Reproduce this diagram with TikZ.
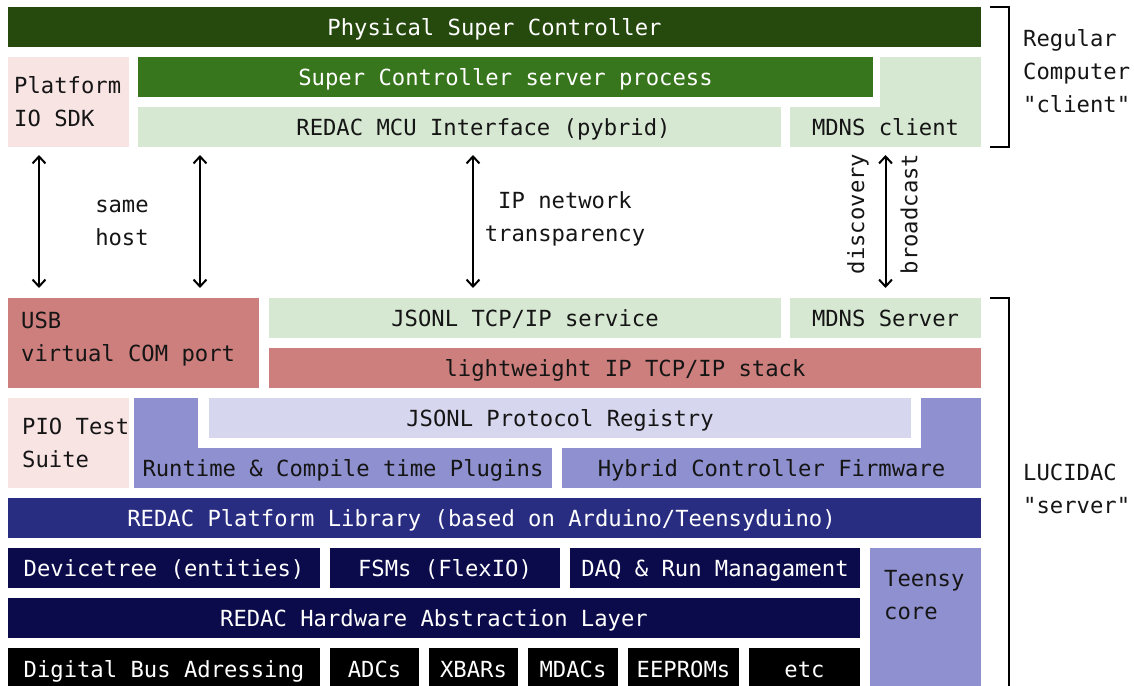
\documentclass[tikz,border=0pt]{standalone}
\usepackage{fontspec}
\setmonofont{DejaVu Sans Mono}
\usetikzlibrary{arrows.meta,calc}

\definecolor{pscGreen}{HTML}{264A0D}
\definecolor{srvGreen}{HTML}{38761D}
\definecolor{paleGreen}{HTML}{D6E8D2}
\definecolor{palePink}{HTML}{F9E4E4}
\definecolor{brick}{HTML}{CD7F7D}
\definecolor{violet}{HTML}{8E90CF}
\definecolor{lavender}{HTML}{D6D6EE}
\definecolor{indigo}{HTML}{292D82}
\definecolor{nightBlue}{HTML}{0B0B4B}
\definecolor{inkDark}{HTML}{151515}

% one layer of the stack: name, x1, y1, x2, y2, style, text
\newcommand\layer[7]{%
  \node[layerbox,oneline,#6,minimum width={#4-#2},minimum height={#5-#3},anchor=north west]
    (#1) at (#2,#3) {#7};}
% an empty block whose caption is set separately
\newcommand\block[6]{%
  \node[layerbox,#6,minimum width={#4-#2},minimum height={#5-#3},anchor=north west]
    (#1) at (#2,#3) {};}

\begin{document}
\begin{tikzpicture}[x=1pt,y=-1pt,
  font=\ttfamily\fontsize{22.2}{33}\selectfont,
  layerbox/.style={inner sep=0pt,outer sep=0pt,draw=none},
  oneline/.style={text height=22pt,text depth=5.2pt},
  darkbox/.style={text=white},
  lightbox/.style={text=inkDark},
  caption/.style={align=left,anchor=west,text=inkDark,inner sep=0pt},
  dbl/.style={{Straight Barb[length=7pt,width=13pt,line width=2pt]}-{Straight Barb[length=7pt,width=13pt,line width=2pt]},line width=2pt},
  bracket/.style={line width=2pt},
  side/.style={align=left,anchor=north west,text=inkDark,inner sep=0pt}]

\useasboundingbox (0,0) rectangle (1134,685);

% ---------- client side ----------
\layer{psc}{8}{7}{981}{47}{fill=pscGreen,darkbox}{Physical Super Controller}
\block{sdk}{8}{57}{129}{147}{fill=palePink}
\node[caption] (sdkt) at (14,102) {Platform\\IO SDK};
\layer{scp}{138}{57}{873}{97}{fill=srvGreen,darkbox}{Super Controller server process}
\fill[paleGreen] (880,57) rectangle (981,107);
\layer{mcu}{138}{107}{781}{147}{fill=paleGreen,lightbox}{\hspace*{48pt}REDAC MCU Interface (pybrid)}
\layer{mdnsc}{790}{107}{981}{147}{fill=paleGreen,lightbox}{MDNS client}

% ---------- server side ----------
\block{usb}{8}{298}{259}{388}{fill=brick}
\node[caption] (usbt) at (21,339.5) {USB\\virtual COM port};
\layer{svc}{269}{298}{781}{338}{fill=paleGreen,lightbox}{JSONL TCP/IP service}
\layer{mdnss}{790}{298}{981}{338}{fill=paleGreen,lightbox}{MDNS Server}
\layer{lwip}{269}{348}{981}{388}{fill=brick,lightbox}{lightweight IP TCP/IP stack}

\block{pio}{8}{398}{129}{488}{fill=palePink}
\node[caption] (piot) at (22,443) {PIO Test\\Suite};
\fill[violet] (134,398) rectangle (198,448);
\layer{reg}{209}{398}{911}{438}{fill=lavender,lightbox}{JSONL Protocol Registry}
\fill[violet] (921,398) rectangle (981,448);
\layer{plug}{134}{448}{552}{488}{fill=violet,lightbox}{Runtime \& Compile time Plugins}
\layer{hcf}{562}{448}{981}{488}{fill=violet,lightbox}{Hybrid Controller Firmware}

\layer{lib}{8}{498}{981}{538}{fill=indigo,darkbox}{REDAC Platform Library (based on Arduino/Teensyduino)\hspace*{26pt}}

\layer{dts}{8}{548}{320}{588}{fill=nightBlue,darkbox}{Devicetree (entities)}
\layer{fsm}{330}{548}{560}{588}{fill=nightBlue,darkbox}{FSMs (FlexIO)}
\layer{daq}{570}{548}{860}{588}{fill=nightBlue,darkbox}{DAQ \& Run Managament}
\block{teensy}{870}{548}{981}{700}{fill=violet}
\node[caption] (teensyt) at (884,595) {Teensy\\core};
\layer{hal}{8}{598}{860}{638}{fill=nightBlue,darkbox}{REDAC Hardware Abstraction Layer}

\layer{bus}{8}{648}{320}{690}{fill=black,darkbox}{Digital Bus Adressing}
\layer{adc}{330}{648}{419}{690}{fill=black,darkbox}{ADCs}
\layer{xbar}{429}{648}{518}{690}{fill=black,darkbox}{XBARs}
\layer{mdac}{528}{648}{618}{690}{fill=black,darkbox}{MDACs}
\layer{eep}{628}{648}{739}{690}{fill=black,darkbox}{EEPROMs}
\layer{etc}{749}{648}{860}{690}{fill=black,darkbox}{etc}

% ---------- links between the two sides ----------
\draw[dbl] ($(sdk.south west)+(31,8)$) -- ($(usb.north west)+(31,-10)$);
\draw[dbl] ($(mcu.south west)+(62,8)$) -- ($(usb.north west)+(192,-10)$);
\draw[dbl] ($(mcu.south west)+(335,8)$) -- ($(svc.north west)+(204,-10)$);
\draw[dbl] ($(mdnsc.south)+(0,8)$) -- ($(mdnss.north)+(0,-10)$);

\node[align=center,text=inkDark] (samehost) at (122,223) {same\\host};
\node[align=center,text=inkDark] (ipnet) at (565,219) {IP network\\transparency};
\node[rotate=90,text=inkDark] (disc) at (858,214) {discovery};
\node[rotate=90,text=inkDark] (bcast) at (909,214) {broadcast};

% ---------- brackets and side captions ----------
\draw[bracket] ($(psc.north east)+(9,0)$) -- ++(19,0) |- ($(mdnsc.south east)+(9,0)$);
\draw[bracket] ($(mdnss.north east)+(9,0)$) -- ++(19,0) -- ++(0,420);
\node[caption] (client) at (1023,71.5) {Regular\\Computer\\"client"};
\node[caption] (server) at (1023,489) {LUCIDAC\\"server"};

\end{tikzpicture}
\end{document}
